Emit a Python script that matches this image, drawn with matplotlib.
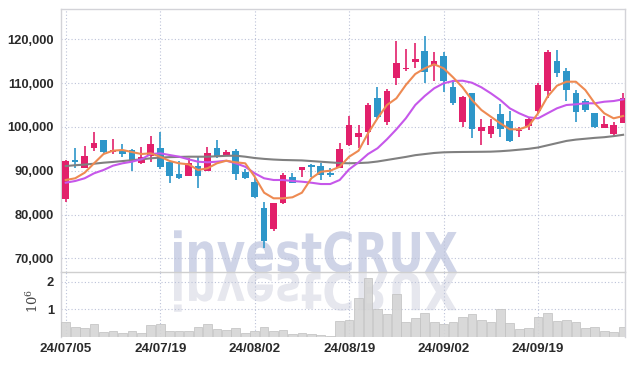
import matplotlib
matplotlib.use("Agg")
import matplotlib.pyplot as plt
import numpy as np
from matplotlib.textpath import TextPath
from matplotlib.patches import PathPatch
from matplotlib.font_manager import FontProperties
import matplotlib.transforms as mtransforms

# ---------------- data ----------------
opens = [83470, 92400, 90700, 95250, 97010, 94200, 94570, 94730, 91830, 93430,
         95180, 92060, 89250, 88860, 91070, 90000, 95250, 93430, 94500, 89770,
         87350, 81420, 76620, 82560, 88640, 90160, 91300, 91070, 89540, 90690,
         95870, 97630, 98770, 106530, 101050, 111100, 113150, 114820, 117330, 114130,
         116190, 109040, 101050, 107670, 99060, 98310, 102880, 101350, 99000, 100200,
         103700, 108200, 115110, 112760, 107810, 105910, 103110, 99820, 98380, 100960]
highs = [92400, 95100, 95700, 98770, 97010, 97170, 96100, 94900, 95340, 97920,
         98770, 92300, 92280, 92830, 93200, 95480, 97010, 94800, 94890, 90320,
         88270, 82790, 82700, 89540, 89540, 90800, 91530, 91690, 90600, 96260,
         102490, 100430, 105530, 109180, 108580, 119610, 117720, 119090, 120750, 117170,
         117170, 110710, 107120, 107810, 101800, 101740, 105230, 103630, 99910, 102330,
         110090, 117560, 117560, 113380, 108420, 106300, 103200, 102490, 101190, 107670]
lows = [82900, 90700, 90600, 94570, 93900, 93900, 93200, 89820, 91460, 91920,
        90320, 87260, 88100, 88700, 85980, 89950, 93000, 93300, 87880, 88040,
        83840, 72300, 76240, 82330, 87200, 88640, 88640, 87880, 88500, 90600,
        95640, 95120, 95870, 101580, 100430, 109570, 112830, 113380, 109960, 110550,
        108040, 105000, 100050, 97400, 95870, 97530, 97630, 96620, 97760, 99290,
        102950, 106670, 111460, 105980, 101190, 103470, 99680, 99680, 97630, 100820]
closes = [92220, 92000, 93430, 96330, 94340, 94730, 93810, 91920, 93060, 96100,
          90910, 88860, 88400, 91690, 88860, 93970, 93200, 94200, 89180, 88270,
          84070, 74020, 82560, 89020, 87260, 90780, 90860, 89020, 89020, 94950,
          100430, 98610, 105000, 102330, 108200, 114520, 113520, 115500, 112600, 115050,
          110550, 105390, 106760, 99450, 99910, 100270, 99520, 96780, 99100, 101800,
          109570, 117030, 112370, 108420, 103330, 103860, 100050, 100660, 100430, 106670]
ma_short = [87880, 88270, 89540, 91690, 93810, 94570, 94730, 94270, 93810, 93970,
            93200, 92220, 91690, 91460, 90160, 90550, 91690, 92280, 91920, 91690,
            88640, 84980, 83700, 83700, 83930, 84980, 88270, 89770, 90000, 90910,
            93200, 94570, 98540, 101960, 105000, 106530, 109570, 112080, 113380, 114290,
            113380, 111320, 109040, 106140, 103860, 102330, 100820, 99450, 99450, 100200,
            103110, 106900, 109410, 110320, 110320, 108420, 105390, 103110, 101960, 102490]
ma_mid = [87260, 87650, 88270, 89410, 90160, 91150, 91690, 92060, 92600, 93810,
          93970, 93580, 93200, 92600, 92060, 91920, 92060, 92280, 91690, 90910,
          89410, 88270, 87880, 87880, 87650, 87490, 87260, 86960, 86960, 87880,
          90320, 91920, 93810, 95120, 97170, 99450, 101960, 105000, 107060, 108810,
          109960, 110480, 110550, 110090, 109040, 107670, 106140, 104250, 103110, 102190,
          101960, 103110, 104250, 105000, 105160, 105390, 105390, 105750, 105910, 106300]
ma_long = [91070, 91250, 91400, 91600, 91830, 92000, 92200, 92400, 92600, 92830,
           93000, 93100, 93150, 93200, 93200, 93200, 93300, 93400, 93430, 93200,
           92900, 92700, 92550, 92450, 92400, 92350, 92200, 92050, 91900, 91750,
           91700, 91750, 91850, 92100, 92450, 92800, 93150, 93550, 93800, 94050,
           94200, 94250, 94280, 94300, 94320, 94350, 94450, 94600, 94800, 95000,
           95300, 95800, 96300, 96800, 97100, 97300, 97500, 97650, 97900, 98200]
volume_m = [0.54, 0.35, 0.31, 0.46, 0.19, 0.23, 0.13, 0.21, 0.14, 0.42,
            0.46, 0.22, 0.21, 0.21, 0.35, 0.46, 0.28, 0.24, 0.31, 0.13,
            0.21, 0.35, 0.22, 0.24, 0.10, 0.13, 0.10, 0.08, 0.04, 0.58,
            0.61, 1.40, 2.12, 1.00, 0.83, 1.54, 0.54, 0.67, 0.86, 0.54,
            0.47, 0.54, 0.71, 0.83, 0.61, 0.54, 1.00, 0.49, 0.28, 0.31,
            0.73, 0.86, 0.58, 0.61, 0.54, 0.31, 0.35, 0.22, 0.17, 0.35]
tick_idx = [0, 10, 20, 30, 40, 50]
tick_labels = ["24/07/05", "24/07/19", "24/08/02", "24/08/19", "24/09/02", "24/09/19"]
price_ticks = [70000, 80000, 90000, 100000, 110000, 120000]
vol_ticks = [1, 2]

# ---------------- style ----------------
RED = "#E2206B"
BLUE = "#2E96C9"
GRID = "#BCC2D8"
SPINE = "#D3D3D8"
TXT = "#2a2a2a"
FONT = ["Liberation Sans", "DejaVu Sans"]
plt.rcParams["mathtext.fontset"] = "dejavuserif"

W, H = 634, 366
fig = plt.figure(figsize=(W / 100, H / 100), dpi=100)
fig.patch.set_facecolor("white")
L, R = 61, 625
ax = fig.add_axes([L / W, (H - 272) / H, (R - L) / W, (272 - 9) / H], zorder=2)
axv = fig.add_axes([L / W, (H - 337) / H, (R - L) / W, (337 - 272) / H], sharex=ax, zorder=2)
for a in (ax, axv):
    a.set_facecolor("none")

n = len(closes)
x = np.arange(n)
o = np.array(opens); c = np.array(closes)
cols = [RED if cc >= oo else BLUE for oo, cc in zip(opens, closes)]
ax.vlines(x, lows, highs, colors=cols, lw=1.2, zorder=3)
body = np.maximum(np.abs(c - o), 250)
ax.bar(x, body, bottom=np.minimum(o, c), width=0.7, color=cols, zorder=4, linewidth=0)

ax.plot(x, ma_long, color="#808080", lw=1.5, zorder=5)
ax.plot(x, ma_mid, color="#C657EA", lw=1.5, zorder=5)
ax.plot(x, ma_short, color="#EE8A52", lw=1.5, zorder=5)

axv.bar(x, volume_m, width=0.92, color="#D5D5D5", edgecolor="#C2C2C2", linewidth=0.6, alpha=0.9, zorder=3)

ax.set_xlim(-0.5, 59.2)
ax.set_ylim(66875, 126920)
axv.set_ylim(0, 2.35)

ax.set_yticks(price_ticks)
ax.set_yticklabels([f"{v:,}" for v in price_ticks])
axv.set_yticks(vol_ticks)
axv.set_yticklabels([str(v) for v in vol_ticks])
axv.set_xticks(tick_idx)
axv.set_xticklabels(tick_labels)
ax.tick_params(axis="x", labelbottom=False, length=0)
ax.tick_params(axis="y", length=0, pad=5, labelsize=9.3, labelcolor=TXT)
axv.tick_params(axis="y", length=0, pad=5, labelsize=9.3, labelcolor=TXT)
axv.tick_params(axis="x", length=0, pad=4, labelsize=9.6, labelcolor=TXT)
for lab in ax.get_yticklabels() + axv.get_yticklabels() + axv.get_xticklabels():
    lab.set_family(FONT)
    lab.set_fontweight("bold")

for a in (ax, axv):
    a.grid(True, color=GRID, linestyle=(0, (1, 2)), linewidth=0.8, zorder=1)
    a.set_axisbelow(True)
    for s in a.spines.values():
        s.set_color(SPINE)
        s.set_linewidth(1.0)
ax.spines["bottom"].set_color("#CFCFCF")
axv.spines["top"].set_visible(False)
axv.spines["bottom"].set_visible(False)

fig.text(33 / W, (H - 301) / H, r"$10^6$", rotation=90, ha="center", va="center",
         fontsize=9.5, color="#444444")

# watermark
fp = FontProperties(family="DejaVu Sans", weight="bold")
tp = TextPath((0, 0), "investCRUX", size=1, prop=fp)
ext = tp.get_extents()
x0w, x1w, base = 174, 457, 272
sx = (x1w - x0w) / ext.width
sy = 40 / 0.729
tr_main = mtransforms.Affine2D().translate(-ext.x0, 0).scale(sx, sy).translate(x0w, H - base)
fig.add_artist(PathPatch(tp, transform=tr_main, facecolor="#CFD4E7", edgecolor="none", zorder=1))
tr_mirror = mtransforms.Affine2D().translate(-ext.x0, 0).scale(sx, -sy * 0.93).translate(x0w, H - base - 1)
fig.add_artist(PathPatch(tp, transform=tr_mirror, facecolor="#E6E7EE", edgecolor="none", zorder=1))

fig.savefig("out.png", dpi=100, facecolor="white")
